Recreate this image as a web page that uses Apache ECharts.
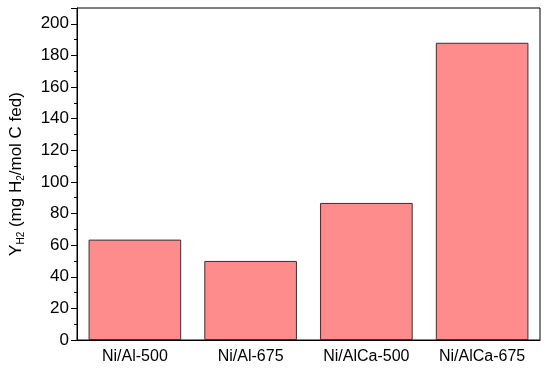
<!DOCTYPE html>
<html><head><meta charset="utf-8">
<script src="https://cdn.jsdelivr.net/npm/echarts@6/dist/echarts.min.js"></script>
<style>html,body{margin:0;padding:0;background:#fff}#c{width:550px;height:374px}</style>
</head><body><div id="c"></div>
<script>
var categories = ['Ni/Al-500', 'Ni/Al-675', 'Ni/AlCa-500', 'Ni/AlCa-675'];
var values = [63.5, 50, 86.7, 188];
var yTicks = [0, 20, 40, 60, 80, 100, 120, 140, 160, 180, 200];

var chart = echarts.init(document.getElementById('c'));
var font = 'Liberation Sans, Arial, sans-serif';
chart.setOption({
  animation: false,
  grid: {left: 74, right: 10, top: 8, bottom: 34, show: true, borderColor: '#000', borderWidth: 1, backgroundColor: 'transparent'},
  xAxis: [{
    type: 'category', data: categories, position: 'bottom',
    axisLine: {lineStyle: {color: '#000', width: 1}},
    axisTick: {alignWithLabel: true, length: 5, lineStyle: {color: '#000'}},
    axisLabel: {color: '#000', fontSize: 16, fontFamily: font, margin: 9}
  }, {
    type: 'category', data: categories, position: 'bottom',
    axisLine: {show: false},
    axisTick: {alignWithLabel: false, length: 3, lineStyle: {color: '#000'}},
    axisLabel: {show: false}
  }],
  yAxis: {
    type: 'value', min: 0, max: 210, interval: 20,
    axisLine: {show: true, lineStyle: {color: '#000'}},
    axisTick: {show: true, length: 6, lineStyle: {color: '#000'}},
    minorTick: {show: true, splitNumber: 2, length: 3, lineStyle: {color: '#000'}},
    splitLine: {show: false},
    axisLabel: {color: '#000', fontSize: 17, fontFamily: font, margin: 8,
      formatter: function (v) { return yTicks.indexOf(v) >= 0 ? String(v) : ''; }},
    name: '{a|Y}{s|H2}{a| (mg H}{s|2}{a|/mol C fed)}',
    nameLocation: 'middle', nameGap: 51, nameRotate: 90,
    nameTextStyle: {
      rich: {
        a: {fontSize: 17, color: '#000', fontFamily: font},
        s: {fontSize: 10, color: '#000', fontFamily: font, verticalAlign: 'bottom', padding: [9, 0, 0, 0]}
      }
    }
  },
  series: [{
    type: 'bar', data: values, barWidth: '80%',
    itemStyle: {color: '#FF8C8C', borderColor: '#333', borderWidth: 1}
  }]
});
</script></body></html>
